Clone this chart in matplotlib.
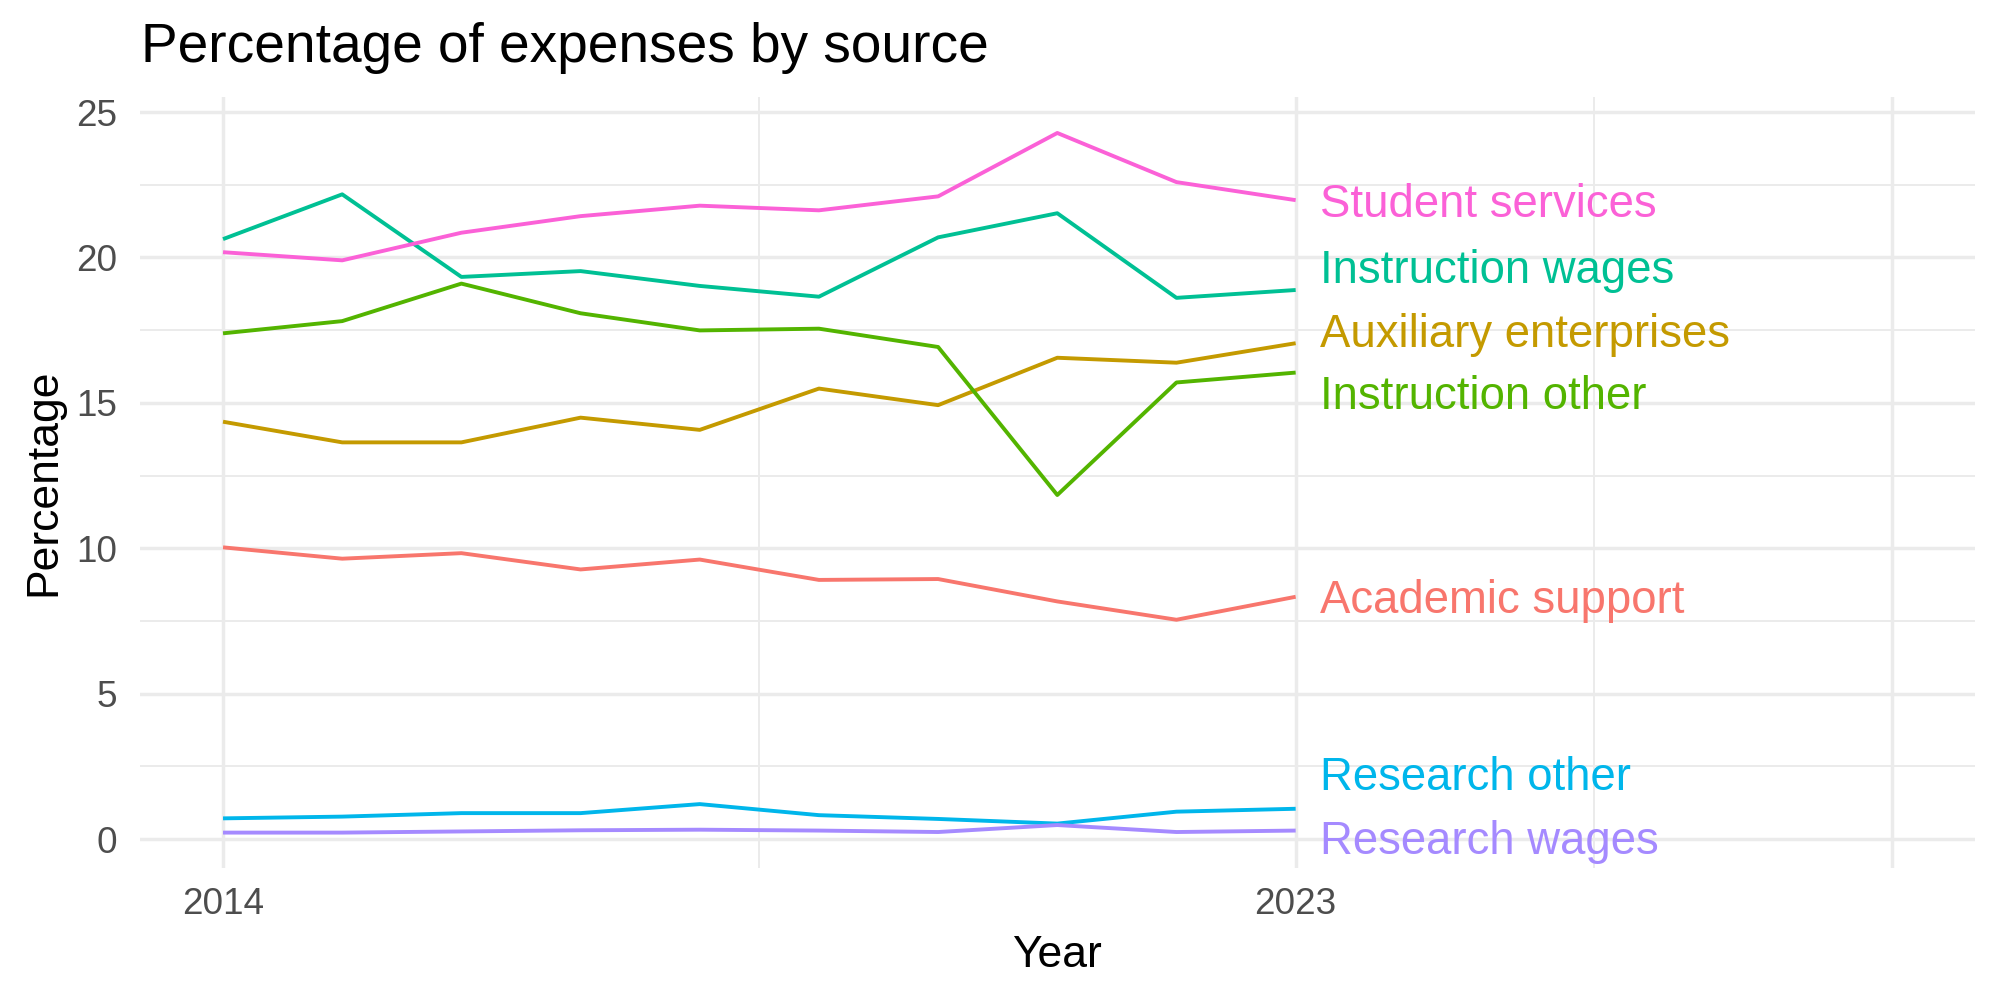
import matplotlib
matplotlib.use("Agg")
import matplotlib.pyplot as plt

plt.rcParams['font.family'] = ['Liberation Sans', 'DejaVu Sans']

years = [2014, 2015, 2016, 2017, 2018, 2019, 2020, 2021, 2022, 2023]

academic_support = [10.03, 9.64, 9.83, 9.27, 9.61, 8.91, 8.94, 8.17, 7.54, 8.33]
auxiliary_enterprises = [14.35, 13.64, 13.64, 14.49, 14.07, 15.49, 14.92, 16.55, 16.38, 17.05]
instruction_other = [17.39, 17.81, 19.10, 18.08, 17.49, 17.55, 16.92, 11.83, 15.70, 16.04]
instruction_wages = [20.63, 22.17, 19.33, 19.53, 19.02, 18.65, 20.69, 21.52, 18.61, 18.88]
research_other = [0.71, 0.77, 0.89, 0.89, 1.20, 0.82, 0.69, 0.53, 0.94, 1.04]
research_wages = [0.22, 0.22, 0.26, 0.30, 0.32, 0.29, 0.24, 0.48, 0.24, 0.29]
student_services = [20.18, 19.90, 20.85, 21.42, 21.78, 21.62, 22.10, 24.28, 22.59, 21.97]

series_names = ["Academic support", "Auxiliary enterprises", "Instruction other",
                "Instruction wages", "Research other", "Research wages", "Student services"]
series_values = [academic_support, auxiliary_enterprises, instruction_other,
                 instruction_wages, research_other, research_wages, student_services]
series_colors = ["#F8766D", "#C49A00", "#53B400", "#00C094", "#00B6EB", "#A58AFF", "#FB61D7"]

# label vertical positions (repelled)
label_y = [8.33, 17.49, 15.35, 19.68, 2.25, 0.05, 21.94]
label_x = 2023.2

x_major = [2014, 2023, 2028]
x_major_labels = ["2014", "2023", ""]
x_minor = [2018.5, 2025.5]
y_major = [0, 5, 10, 15, 20, 25]
y_minor = [2.5, 7.5, 12.5, 17.5, 22.5]

fig = plt.figure(figsize=(10, 5), dpi=200)
ax = fig.add_axes([0.0698, 0.1325, 0.9177, 0.77])

grid_col = "#EBEBEB"
for v in x_minor:
    ax.axvline(v, color=grid_col, lw=0.7, zorder=0)
for v in y_minor:
    ax.axhline(v, color=grid_col, lw=0.7, zorder=0)
for v in x_major:
    ax.axvline(v, color=grid_col, lw=1.25, zorder=0)
for v in y_major:
    ax.axhline(v, color=grid_col, lw=1.25, zorder=0)

for name, vals, col, ly in zip(series_names, series_values, series_colors, label_y):
    ax.plot(years, vals, color=col, lw=1.4, solid_capstyle='butt', zorder=3)
    ax.annotate(name, xy=(label_x, ly), xytext=(0, -5.8), textcoords='offset points',
                ha='left', va='baseline', color=col, fontsize=16.4, zorder=4,
                annotation_clip=False)

ax.set_xlim(2013.3, 2028.7)
ax.set_ylim(-0.98, 25.5)
ax.set_xticks(x_major)
ax.set_xticklabels(x_major_labels)
ax.set_yticks(y_major)
ax.set_yticklabels([str(v) for v in y_major])
ax.tick_params(axis='both', length=0, labelsize=13.3, labelcolor='#4D4D4D')
ax.tick_params(axis='x', pad=7.2)
ax.tick_params(axis='y', pad=8.0)
for s in ax.spines.values():
    s.set_visible(False)

ax.set_xlabel("Year", fontsize=16, color='black')
ax.xaxis.label.set_va('baseline')
ax.xaxis.set_label_coords(0.5, -0.129)
ax.set_ylabel("Percentage", fontsize=16, color='black')
ax.yaxis.label.set_va('baseline')
ax.yaxis.label.set_rotation_mode('anchor')
ax.yaxis.set_label_coords(-0.0461, 0.5)

fig.text(0.0705, 0.938, "Percentage of expenses by source", fontsize=19.8,
         ha='left', va='baseline', color='black')

fig.savefig("out.png", dpi=200, facecolor='white')
